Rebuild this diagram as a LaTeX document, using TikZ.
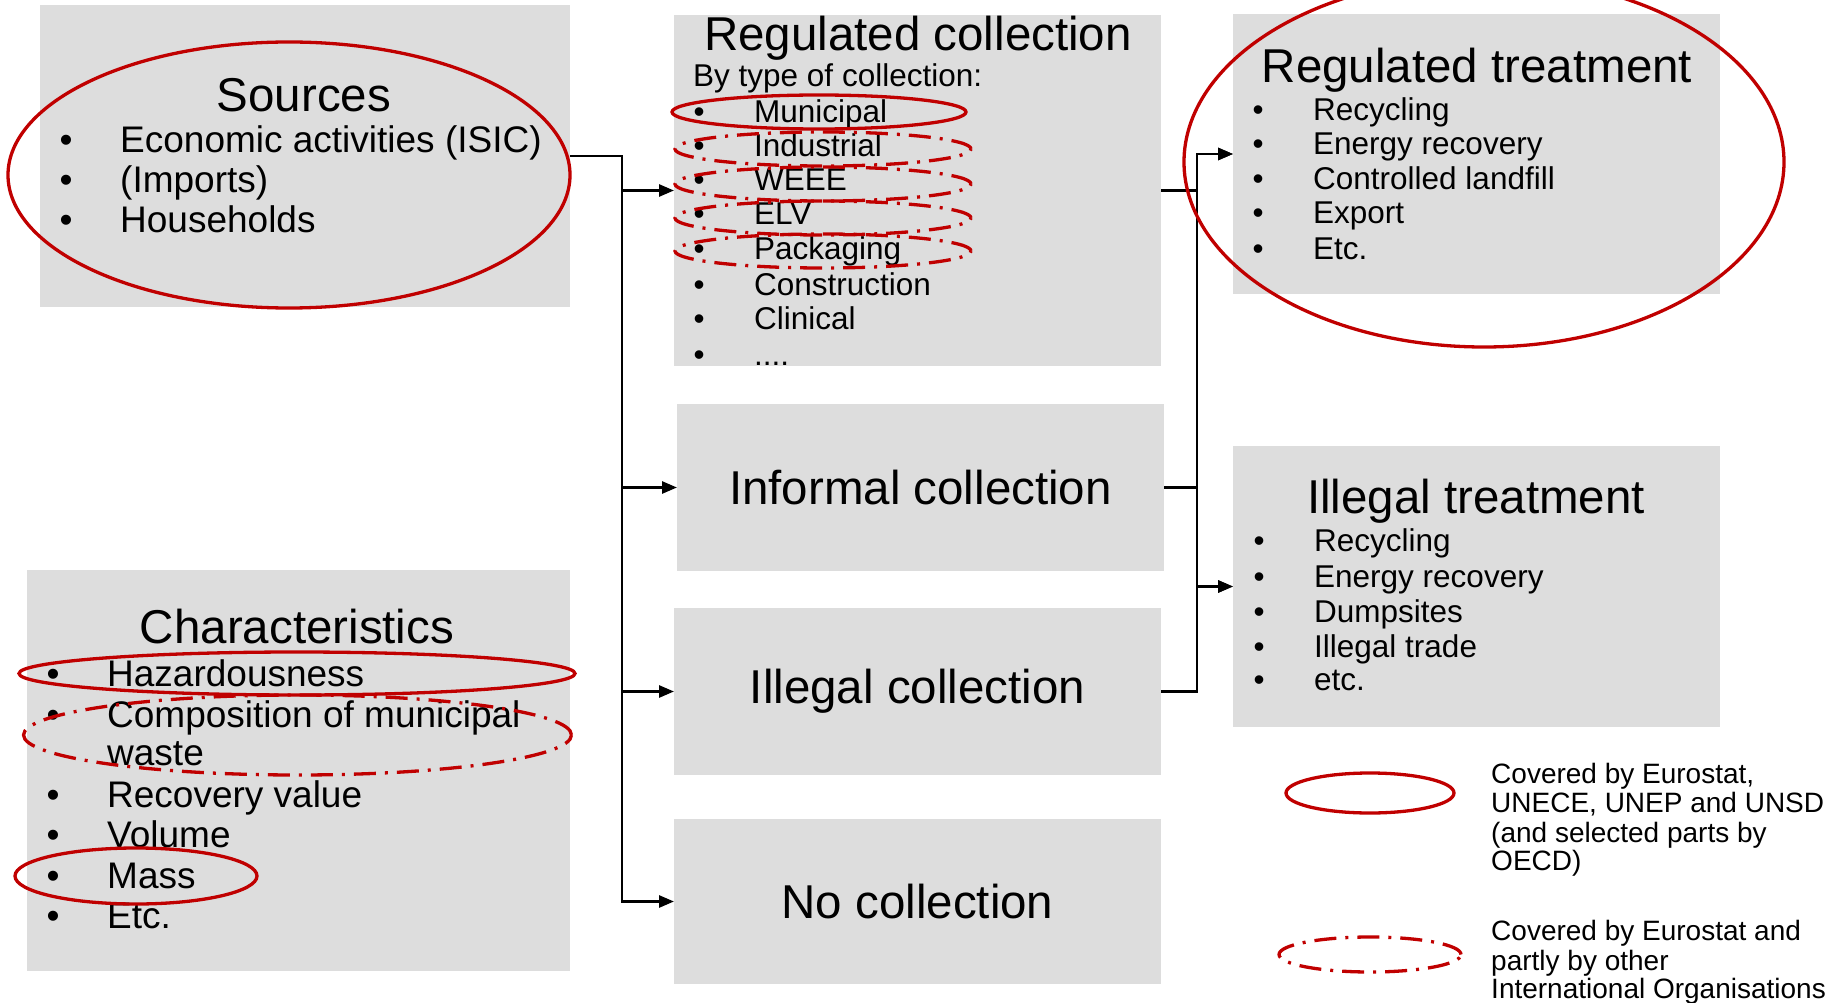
\documentclass[tikz,border=0pt]{standalone}
\usepackage{fontspec}
\setmainfont{Liberation Sans}
\usepackage{tikz}
\usetikzlibrary{positioning,calc,arrows.meta}

\definecolor{boxgray}{RGB}{221,221,221}
\definecolor{ringred}{RGB}{192,0,0}

\newcommand{\bul}{\makebox[60.5pt][l]{\textbullet}}

\tikzset{
  panel/.style={fill=boxgray, inner sep=0pt, outer sep=0pt, anchor=north west},
  heading/.style={font=\fontsize{47.5}{50}\selectfont, inner sep=0pt, anchor=base},
  bigentry/.style={font=\fontsize{37}{40}\selectfont, inner sep=0pt, anchor=base west},
  entry/.style={font=\fontsize{31.5}{34}\selectfont, inner sep=0pt, anchor=base west},
  legendtext/.style={font=\fontsize{28}{30}\selectfont, inner sep=0pt, anchor=base west},
  flow/.style={line width=2.7pt, -{Triangle[length=15pt,width=12pt]}},
  ring/.style={draw=ringred, line width=3.3pt},
  dashring/.style={ring, dash pattern=on 22pt off 9pt on 3pt off 9pt},
}

\begin{document}
\begin{tikzpicture}[x=1pt,y=-1pt]
    \useasboundingbox (0,0) rectangle (1837,1003);

    % grey panels
    \node[panel, minimum width=530pt, minimum height=302pt] (sources) at (40,5) {};
    \node[panel, minimum width=543pt, minimum height=401pt] (charac) at (27,570) {};
    \node[panel, minimum width=487pt, minimum height=351pt] (regcoll) at (674,15) {};
    \node[panel, minimum width=487pt, minimum height=167pt, font=\fontsize{47.5}{50}\selectfont] (informal) at (677,404) {Informal collection};
    \node[panel, minimum width=487pt, minimum height=167pt, font=\fontsize{47.5}{50}\selectfont] (illcoll) at (674,608) {Illegal collection};
    \node[panel, minimum width=487pt, minimum height=165pt, font=\fontsize{47.5}{50}\selectfont] (nocoll) at (674,819) {No collection};
    \node[panel, minimum width=487pt, minimum height=280pt] (regtreat) at (1233,14) {};
    \node[panel, minimum width=487pt, minimum height=281pt] (illtreat) at (1233,446) {};

    % connectors
    \coordinate (jl) at (622,0);
    \coordinate (jr) at (1197,0);
    \draw[flow] (sources.east) -| (jl |- nocoll.west) -- (nocoll.west);
    \draw[flow] (jl |- regcoll.west) -- (regcoll.west);
    \draw[flow] (jl |- informal.west) -- (informal.west);
    \draw[flow] (jl |- illcoll.west) -- (illcoll.west);
    \draw[flow] (regcoll.east) -| (jr |- regtreat.west) -- (regtreat.west);
    \draw[flow] (informal.east) -| (jr |- regtreat.west) -- (regtreat.west);
    \draw[flow] (informal.east) -| (jr |- illtreat.west) -- (illtreat.west);
    \draw[flow] (illcoll.east) -| (jr |- illtreat.west) -- (illtreat.west);

    % sources
    \node[heading] (src-h) at (304,112) {Sources};
    \node[bigentry] (src-1) at (59.5,153) {\bul Economic activities (ISIC)};
    \node[bigentry] (src-2) at (59.5,193) {\bul (Imports)};
    \node[bigentry] (src-3) at (59.5,233) {\bul Households};

    % regulated collection
    \node[heading] (rc-h) at (918,51) {Regulated collection};
    \node[entry] (rc-by) at (693,87) {By type of collection:};
    \node[entry] (rc-1) at (693.5,123) {\bul Municipal};
    \node[entry] (rc-2) at (693.5,157) {\bul Industrial};
    \node[entry] (rc-3) at (693.5,191) {\bul WEEE};
    \node[entry] (rc-4) at (693.5,225) {\bul ELV};
    \node[entry] (rc-5) at (693.5,260) {\bul Packaging};
    \node[entry] (rc-6) at (693.5,295) {\bul Construction};
    \node[entry] (rc-7) at (693.5,329) {\bul Clinical};
    \node[entry] (rc-8) at (693.5,365) {\bul ....};

    % regulated treatment
    \node[heading] (rt-h) at (1477,83) {Regulated treatment};
    \node[entry] (rt-1) at (1252.5,121) {\bul Recycling};
    \node[entry] (rt-2) at (1252.5,155) {\bul Energy recovery};
    \node[entry] (rt-3) at (1252.5,190) {\bul Controlled landfill};
    \node[entry] (rt-4) at (1252.5,224) {\bul Export};
    \node[entry] (rt-5) at (1252.5,259) {\bul Etc.};

    % illegal treatment
    \node[heading] (it-h) at (1476,513) {Illegal treatment};
    \node[entry] (it-1) at (1253.5,551) {\bul Recycling};
    \node[entry] (it-2) at (1253.5,587) {\bul Energy recovery};
    \node[entry] (it-3) at (1253.5,622) {\bul Dumpsites};
    \node[entry] (it-4) at (1253.5,657) {\bul Illegal trade};
    \node[entry] (it-5) at (1253.5,690) {\bul etc.};

    % characteristics
    \node[heading] (ch-h) at (297,643) {Characteristics};
    \node[bigentry] (ch-1) at (46.5,686) {\bul Hazardousness};
    \node[bigentry] (ch-2) at (46.5,727) {\bul Composition of municipal};
    \node[bigentry] (ch-2b) at (107,765) {waste};
    \node[bigentry] (ch-3) at (46.5,807) {\bul Recovery value};
    \node[bigentry] (ch-4) at (46.5,847) {\bul Volume};
    \node[bigentry] (ch-5) at (46.5,888) {\bul Mass};
    \node[bigentry] (ch-6) at (46.5,928) {\bul Etc.};

    % legend
    \node[legendtext] (lg-1) at (1491,783) {Covered by Eurostat,};
    \node[legendtext] (lg-2) at (1491,812) {UNECE, UNEP and UNSD};
    \node[legendtext] (lg-3) at (1491,842) {(and selected parts by};
    \node[legendtext] (lg-4) at (1491,870) {OECD)};
    \node[legendtext] (lg-5) at (1491,940) {Covered by Eurostat and};
    \node[legendtext] (lg-6) at (1491,970) {partly by other};
    \node[legendtext] (lg-7) at (1491,998) {International Organisations};

    % red rings
    \draw[ring] (289,175) ellipse [x radius=281pt, y radius=133pt];
    \draw[ring] (819,112) ellipse [x radius=147pt, y radius=17pt];
    \draw[dashring] (823,149) ellipse [x radius=148pt, y radius=17pt];
    \draw[dashring] (823,184) ellipse [x radius=148pt, y radius=17pt];
    \draw[dashring] (823,218) ellipse [x radius=148pt, y radius=17pt];
    \draw[dashring] (823,251) ellipse [x radius=148pt, y radius=17pt];
    \draw[ring] (1484,162) ellipse [x radius=300pt, y radius=185pt];
    \draw[ring] (297,673.5) ellipse [x radius=278pt, y radius=21.5pt];
    \draw[dashring] (297.5,735) ellipse [x radius=274pt, y radius=40pt];
    \draw[ring] (136,876) ellipse [x radius=121pt, y radius=28pt];
    \draw[ring] (1370,793) ellipse [x radius=84pt, y radius=20pt];
    \draw[dashring] (1370,954.5) ellipse [x radius=91pt, y radius=17.5pt];
\end{tikzpicture}
\end{document}
